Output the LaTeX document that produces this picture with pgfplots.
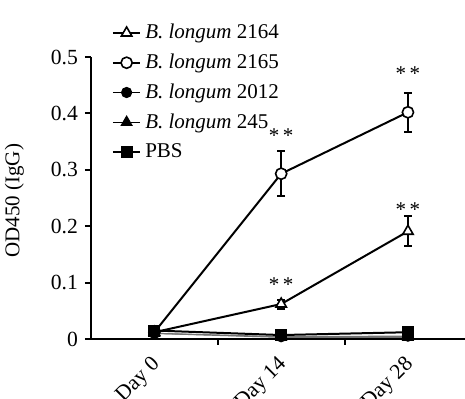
\documentclass[border=0pt]{standalone}
\usepackage{fontspec}
\setmainfont{Liberation Serif}
\usepackage{pgfplots}
\pgfplotsset{compat=1.18}
\begin{document}
\begin{tikzpicture}
\begin{axis}[
  at={(0,0)}, anchor=south west,
  scale only axis,
  width=187pt, height=141pt,
  xmin=0, xmax=2.95, ymin=0, ymax=0.5,
  axis x line*=bottom, axis y line*=left,
  axis line style={line width=1pt},
  ytick={0,0.1,0.2,0.3,0.4,0.5},
  xtick={1,2}, xticklabels={},
  extra x ticks={0.5,1.5,2.5},
  extra x tick labels={Day 0,Day 14,Day 28},
  extra x tick style={major tick length=0pt, xticklabel style={rotate=45, anchor=north east, xshift=-3.7pt, yshift=-0.6pt}},
  tick align=outside, major tick length=3pt,
  tick style={black, line width=1pt},
  /pgf/number format/assume math mode=true,
  yticklabel style={/pgf/number format/fixed},
  font=\fontsize{10.5}{12}\selectfont,
  ticklabel style={font=\fontsize{10.8}{12}\selectfont},
  ylabel={OD450 (IgG)},
  ylabel style={at={(axis description cs:-0.205,0.49)}, anchor=center},
  clip=false,
  legend style={draw=none, fill=none, at={(0.055,1.132)}, anchor=north west,
    font=\fontsize{10.5}{12}\selectfont, row sep=2.1pt, inner sep=0pt,
    /tikz/every even column/.append style={column sep=3.5pt}},
  legend cell align=left,
  legend image code/.code={\draw[mark repeat=2,mark phase=2] plot coordinates {(0cm,0cm)(0.24cm,0cm)(0.48cm,0cm)};},
  error bars/error bar style={line width=1pt, black},
  error bars/error mark options={rotate=90, mark size=2pt, line width=1pt},
]
% B. longum 2164
\addplot[black, line width=1pt, mark=triangle*, mark options={fill=white, line width=0.8pt}, mark size=3pt,
  error bars/.cd, y dir=both, y explicit]
  table[x=x, y=y, y error=e] {
x y e
0.5 0.012 0
1.5 0.062 0.008
2.5 0.191 0.027
};
\addlegendentry{\textit{B. longum} 2164}
% B. longum 2165
\addplot[black, line width=1pt, mark=*, mark options={fill=white, line width=0.8pt}, mark size=2.8pt,
  error bars/.cd, y dir=both, y explicit]
  table[x=x, y=y, y error=e] {
x y e
0.5 0.012 0
1.5 0.293 0.040
2.5 0.402 0.035
};
\addlegendentry{\textit{B. longum} 2165}
% B. longum 2012
\addplot[black!55, line width=0.6pt, mark=*, mark options={fill=black, draw=black}, mark size=2.5pt,
  legend image post style={black}]
  table[x=x, y=y] {
x y
0.5 0.010
1.5 0.004
2.5 0.005
};
\addlegendentry{\textit{B. longum} 2012}
% B. longum 245
\addplot[black!55, line width=0.6pt, mark=triangle*, mark options={fill=black, draw=black}, mark size=3pt,
  legend image post style={black}]
  table[x=x, y=y] {
x y
0.5 0.010
1.5 0.003
2.5 0.003
};
\addlegendentry{\textit{B. longum} 245}
% PBS
\addplot[black, line width=1pt, mark=square*, mark options={fill=black}, mark size=2.5pt]
  table[x=x, y=y] {
x y
0.5 0.015
1.5 0.007
2.5 0.012
};
\addlegendentry{PBS}
\node[font=\fontsize{10.5}{12}\selectfont] at (axis cs:1.5,0.36) {*\,*};
\node[font=\fontsize{10.5}{12}\selectfont] at (axis cs:2.5,0.470) {*\,*};
\node[font=\fontsize{10.5}{12}\selectfont] at (axis cs:1.5,0.096) {*\,*};
\node[font=\fontsize{10.5}{12}\selectfont] at (axis cs:2.5,0.229) {*\,*};
\end{axis}
\pgfresetboundingbox
\path (-45.5pt,-30pt) rectangle (187pt,169.5pt);
\end{tikzpicture}
\end{document}
